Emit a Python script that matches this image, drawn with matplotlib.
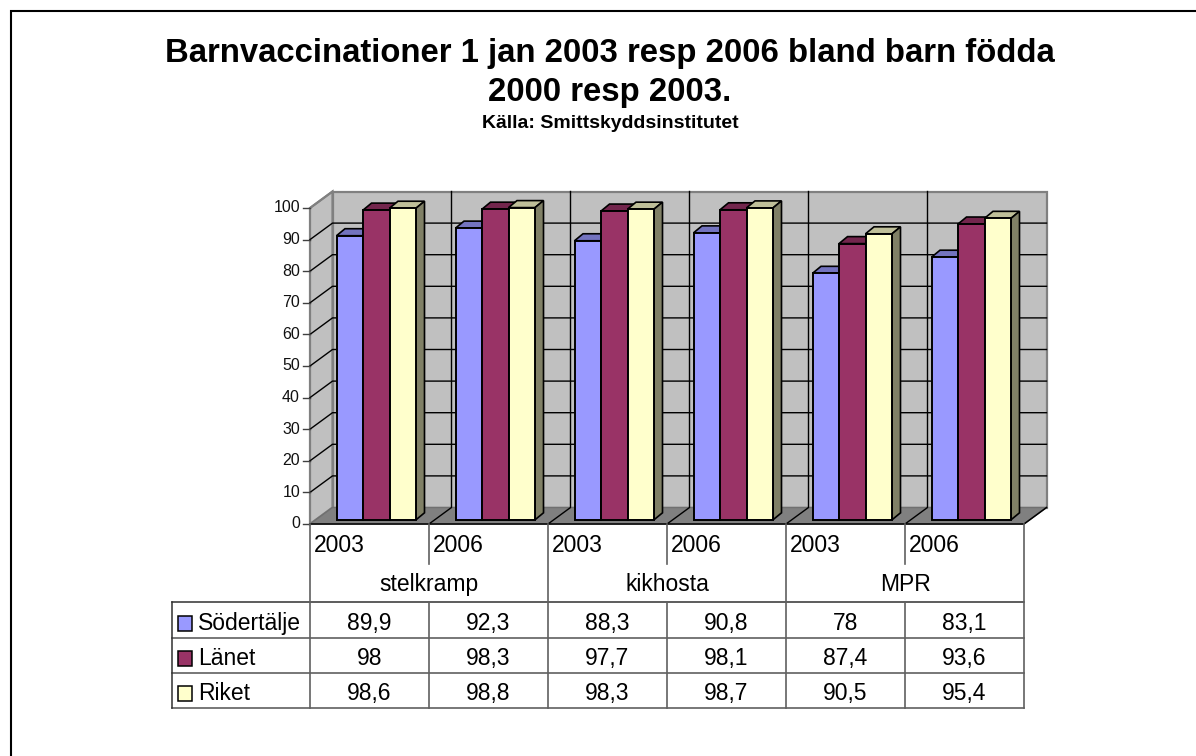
import numpy as np
import matplotlib
matplotlib.use("Agg")
import matplotlib.pyplot as plt
from matplotlib.patches import Polygon, Rectangle

plt.rcParams["font.family"] = ["Liberation Sans", "DejaVu Sans"]

years = ["2003", "2006", "2003", "2006", "2003", "2006"]
groups = ["stelkramp", "kikhosta", "MPR"]
series = ["Södertälje", "Länet", "Riket"]
sodertalje = [89.9, 92.3, 88.3, 90.8, 78, 83.1]
lanet = [98, 98.3, 97.7, 98.1, 87.4, 93.6]
riket = [98.6, 98.8, 98.3, 98.7, 90.5, 95.4]
yticks = list(range(0, 101, 10))

face = ["#9999FF", "#993366", "#FFFFCC"]
top = ["#7373BF", "#73264D", "#BFBF99"]
side = ["#4D4D80", "#4D1A33", "#808066"]

W, H = 1196, 756
fig = plt.figure(figsize=(W / 100, H / 100), dpi=100, facecolor="white")

# pixel overlay for frame, table and titles
bg = fig.add_axes([0, 0, 1, 1], zorder=3)
bg.set_xlim(0, W)
bg.set_ylim(H, 0)
bg.axis("off")
bg.patch.set_alpha(0)

# plot area = front plane of the 3D box
px0, px1, py0, py100 = 310, 1024, 524, 208
ax = fig.add_axes([px0 / W, 1 - py0 / H, (px1 - px0) / W, (py0 - py100) / H], zorder=2)
ax.set_xlim(0, 6)
ax.set_ylim(0, 100)
ax.axis("off")

ux = (px1 - px0) / 6
uy = (py0 - py100) / 100
dx = 22.5 / ux
dy = 16.5 / uy

wall = "#C0C0C0"
edge = "#808080"
ax.add_patch(Polygon([(dx, dy), (6 + dx, dy), (6 + dx, 100 + dy), (dx, 100 + dy)], fc=wall, ec=edge, lw=1.6, clip_on=False, zorder=1))
ax.add_patch(Polygon([(0, 0), (dx, dy), (dx, 100 + dy), (0, 100)], fc=wall, ec=edge, lw=1.6, clip_on=False, zorder=1))
ax.add_patch(Polygon([(0, 0), (6, 0), (6 + dx, dy), (dx, dy)], fc=edge, ec="#707070", lw=1, clip_on=False, zorder=1))
ax.plot([0, 6, 6 + dx], [0, 0, dy], color="black", lw=1.1, clip_on=False, zorder=2)

for v in yticks[1:-1]:
    ax.plot([0, dx, 6 + dx], [v, v + dy, v + dy], color="black", lw=1, clip_on=False, zorder=2)
ax.plot([0, dx], [100, 100 + dy], color="#808080", lw=1.4, clip_on=False, zorder=2)
for i in range(1, 6):
    ax.plot([i, i + dx, i + dx], [0, dy, 100 + dy], color="black", lw=1, clip_on=False, zorder=2)
for v, lab in zip(yticks, yticks):
    ax.plot([-7 / ux, 0], [v, v], color="#404040", lw=1, clip_on=False, zorder=2)
    ax.text(-10 / ux, v, str(lab), ha="right", va="center", fontsize=11.5, color="#111111", clip_on=False)

# bars sit a bit behind the front plane
lift_x = 5.5 / ux
lift_y = 4.2 / uy
bw = 26.5 / ux
bdx = 8.5 / ux
bdy = 7 / uy
start = 21 / ux
for k, vals in enumerate([sodertalje, lanet, riket]):
    x = np.arange(6) + start + lift_x + k * bw
    ax.bar(x, vals, width=bw, bottom=lift_y, align="edge", color=face[k], edgecolor="black", lw=1.4, clip_on=False, zorder=5 + k)
    for xi, v in zip(x, vals):
        yt = v + lift_y
        ax.add_patch(Polygon([(xi, yt), (xi + bw, yt), (xi + bw + bdx, yt + bdy), (xi + bdx, yt + bdy)], fc=top[k], ec="black", lw=1.2, clip_on=False, zorder=4 + k))
        if k == 2:
            ax.add_patch(Polygon([(xi + bw, lift_y), (xi + bw + bdx, lift_y + bdy), (xi + bw + bdx, yt + bdy), (xi + bw, yt)], fc=side[k], ec="black", lw=1.2, clip_on=False, zorder=4 + k))

# table under the chart
tc = "#606060"
cols = [px0 + i * ux for i in range(7)]
row_y = [602, 638, 673, 708]
bg.plot([172, px1], [row_y[0], row_y[0]], color="#303030", lw=1.1)
for y in row_y[1:]:
    bg.plot([172, px1], [y, y], color=tc, lw=1.2)
bg.plot([172, 172], [row_y[0], row_y[-1]], color="#303030", lw=1.1)
for i, x in enumerate(cols):
    if i % 2 == 0:
        bg.plot([x, x], [py0, row_y[-1]], color=tc, lw=1.2)
    else:
        bg.plot([x, x], [py0, 564], color=tc, lw=1.2)
        bg.plot([x, x], [row_y[0], row_y[-1]], color=tc, lw=1.2)
for i, y in enumerate(years):
    bg.text(cols[i] + 3.5, 551.5, y, ha="left", va="baseline", fontsize=16.5)
for i, g in enumerate(groups):
    bg.text(cols[2 * i] + ux, 591, g, ha="center", va="baseline", fontsize=16.5)
base_y = [630, 665, 700]
for r, (name, vals) in enumerate(zip(series, [sodertalje, lanet, riket])):
    bg.add_patch(Rectangle((177.5, base_y[r] - 14), 14.5, 14.5, fc=face[r], ec="black", lw=1.1))
    bg.text(198, base_y[r], name, ha="left", va="baseline", fontsize=16.5)
    for i, v in enumerate(vals):
        bg.text(cols[i] + ux / 2, base_y[r], f"{v:g}".replace(".", ","), ha="center", va="baseline", fontsize=16.5)

# titles and frame (only top and left edges are visible)
bg.text(610, 62, "Barnvaccinationer 1 jan 2003 resp 2006 bland barn födda", ha="center", va="baseline", fontsize=23.7, fontweight="bold")
bg.text(610, 101.5, "2000 resp 2003.", ha="center", va="baseline", fontsize=23.7, fontweight="bold")
bg.text(610, 128, "Källa: Smittskyddsinstitutet", ha="center", va="baseline", fontsize=14, fontweight="bold")
bg.plot([W, 11, 11], [11, 11, H], color="black", lw=1.5, solid_joinstyle="miter")

fig.savefig("out.png", dpi=100)
